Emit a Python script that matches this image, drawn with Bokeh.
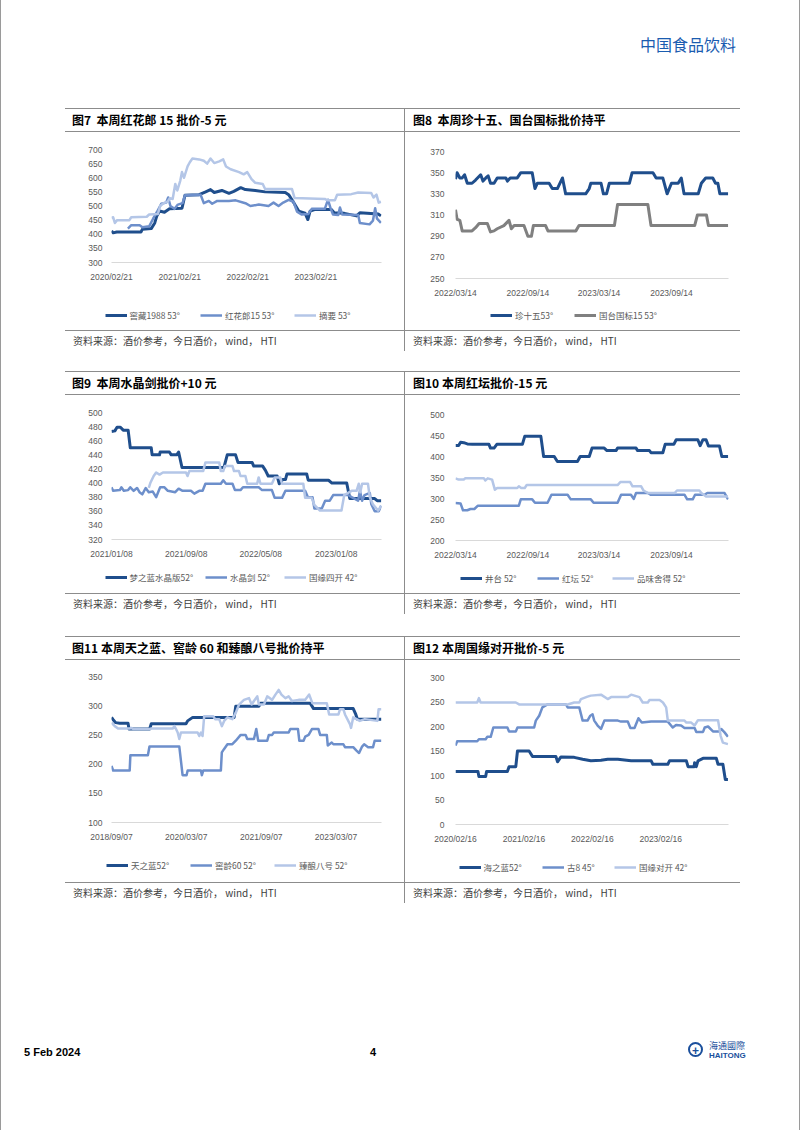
import pandas as pd
from bokeh.plotting import figure
from bokeh.models import Range1d, FixedTicker, DatetimeTickFormatter, Legend, LegendItem, Div, Spacer
from bokeh.layouts import column, row
from bokeh.embed import file_html
from bokeh.resources import INLINE

DARK, MED, LIGHT, GRAY = "#1f4e8c", "#6d8fcb", "#b4c6e7", "#808080"
RULE = "#8c8c8c"
CJK = "Noto Sans CJK SC"
LAT = "Liberation Sans"

# ---------------- data ----------------
# Fig 7
c7_title = "图7  本周红花郎 15 批价-5 元"
c7_x_ticks = ["2020-02-21", "2021-02-21", "2022-02-21", "2023-02-21"]
c7_x_end = "2024-02-08"
c7_y_ticks = [300, 350, 400, 450, 500, 550, 600, 650, 700]
c7_labels = ["窖藏1988 53°", "红花郎15 53°", "摘要 53°"]
c7_jiaocang1988 = [("2020-02-21", 412), ("2020-03-01", 405), ("2020-03-20", 408), ("2020-07-28", 408), ("2020-08-05", 418),
    ("2020-09-21", 420), ("2020-10-10", 440), ("2020-10-21", 465), ("2020-11-05", 482), ("2020-12-01", 478),
    ("2020-12-28", 490), ("2021-03-05", 492), ("2021-03-21", 538), ("2021-06-05", 540), ("2021-07-10", 550),
    ("2021-08-05", 558), ("2021-08-25", 548), ("2021-10-05", 555), ("2021-11-12", 545), ("2021-12-08", 552),
    ("2022-01-14", 565), ("2022-02-08", 558), ("2022-04-02", 555), ("2022-05-25", 550), ("2022-09-10", 548),
    ("2022-09-28", 540), ("2022-10-16", 522), ("2022-11-05", 500), ("2022-11-21", 482), ("2022-12-25", 475),
    ("2023-01-09", 452), ("2023-01-21", 482), ("2023-02-18", 488), ("2023-05-15", 488), ("2023-05-30", 476),
    ("2023-07-24", 474), ("2023-09-27", 465), ("2023-10-15", 476), ("2024-01-21", 472), ("2024-02-05", 465)]
c7_honghualang15 = [("2020-05-19", 420), ("2020-06-06", 432), ("2020-07-21", 432), ("2020-08-05", 425), ("2020-09-10", 428),
    ("2020-10-01", 455), ("2020-10-21", 478), ("2020-11-14", 508), ("2020-12-10", 512), ("2020-12-21", 530),
    ("2021-01-02", 500), ("2021-01-24", 490), ("2021-02-11", 505), ("2021-03-08", 510), ("2021-03-21", 538),
    ("2021-06-13", 540), ("2021-06-30", 510), ("2021-07-27", 518), ("2021-08-14", 508), ("2021-09-10", 518),
    ("2021-11-12", 518), ("2021-12-18", 520), ("2022-02-08", 510), ("2022-03-07", 500), ("2022-04-21", 505),
    ("2022-06-12", 500), ("2022-07-09", 512), ("2022-08-05", 500), ("2022-08-30", 512), ("2022-09-28", 522),
    ("2022-10-24", 515), ("2022-11-12", 480), ("2022-12-06", 470), ("2023-01-12", 472), ("2023-01-30", 490),
    ("2023-04-10", 490), ("2023-04-27", 522), ("2023-05-12", 490), ("2023-05-24", 470), ("2023-06-21", 468),
    ("2023-06-30", 495), ("2023-07-12", 470), ("2023-10-06", 468), ("2023-10-15", 440), ("2023-12-06", 435),
    ("2023-12-24", 448), ("2024-01-05", 492), ("2024-01-15", 455), ("2024-02-05", 440)]
c7_zhaiyao = [("2020-02-21", 458), ("2020-03-01", 460), ("2020-03-10", 440), ("2020-03-22", 450), ("2020-05-27", 450),
    ("2020-06-06", 460), ("2020-08-28", 462), ("2020-09-10", 470), ("2020-10-27", 472), ("2020-11-08", 500),
    ("2020-11-26", 510), ("2020-12-18", 515), ("2020-12-30", 528), ("2021-01-14", 525), ("2021-01-28", 578),
    ("2021-02-08", 555), ("2021-02-24", 590), ("2021-03-05", 620), ("2021-03-16", 600), ("2021-04-04", 640),
    ("2021-04-16", 655), ("2021-04-30", 668), ("2021-06-05", 665), ("2021-06-30", 660), ("2021-07-18", 650),
    ("2021-08-05", 668), ("2021-08-25", 652), ("2021-09-21", 658), ("2021-10-12", 665), ("2021-10-27", 640),
    ("2021-11-21", 630), ("2022-01-05", 620), ("2022-01-30", 612), ("2022-02-18", 620), ("2022-03-13", 595),
    ("2022-04-02", 582), ("2022-05-12", 578), ("2022-05-25", 560), ("2022-10-16", 560), ("2022-10-30", 528),
    ("2023-04-10", 525), ("2023-04-24", 520), ("2023-06-03", 520), ("2023-06-15", 540), ("2023-08-30", 542),
    ("2023-10-06", 548), ("2023-12-15", 546), ("2023-12-27", 530), ("2024-01-12", 540), ("2024-01-24", 512),
    ("2024-02-05", 515)]

# Fig 8
c8_title = "图8  本周珍十五、国台国标批价持平"
c8_x_ticks = ["2022-03-14", "2022-09-14", "2023-03-14", "2023-09-14"]
c8_x_end = "2024-02-06"
c8_y_ticks = [250, 270, 290, 310, 330, 350, 370]
c8_labels = ["珍十五53°", "国台国标15 53°"]
c8_zhen15 = [("2022-03-14", 344), ("2022-03-18", 350), ("2022-03-25", 345), ("2022-03-31", 345), ("2022-04-06", 348),
    ("2022-04-13", 340), ("2022-04-25", 340), ("2022-05-04", 343), ("2022-05-17", 348), ("2022-05-23", 342),
    ("2022-05-30", 345), ("2022-06-05", 347), ("2022-06-11", 340), ("2022-06-20", 340), ("2022-06-28", 345),
    ("2022-07-20", 345), ("2022-07-24", 342), ("2022-07-31", 345), ("2022-08-18", 345), ("2022-08-27", 350),
    ("2022-09-25", 350), ("2022-10-02", 335), ("2022-10-08", 340), ("2022-11-07", 340), ("2022-11-15", 335),
    ("2022-11-28", 335), ("2022-12-11", 345), ("2022-12-19", 330), ("2023-02-08", 330), ("2023-02-17", 335),
    ("2023-02-21", 340), ("2023-03-19", 340), ("2023-03-25", 330), ("2023-04-02", 330), ("2023-04-09", 340),
    ("2023-05-30", 340), ("2023-06-06", 350), ("2023-07-29", 350), ("2023-08-06", 345), ("2023-08-23", 345),
    ("2023-09-03", 330), ("2023-09-14", 340), ("2023-10-01", 340), ("2023-10-09", 345), ("2023-10-16", 330),
    ("2023-11-21", 330), ("2023-11-29", 340), ("2023-12-10", 345), ("2023-12-28", 345), ("2024-01-04", 340),
    ("2024-01-10", 340), ("2024-01-15", 330), ("2024-02-05", 330)]
c8_guotai15 = [("2022-03-14", 315), ("2022-03-18", 306), ("2022-03-25", 305), ("2022-03-31", 295), ("2022-04-25", 295),
    ("2022-05-04", 298), ("2022-05-13", 302), ("2022-06-03", 302), ("2022-06-11", 294), ("2022-06-20", 295),
    ("2022-06-28", 297), ("2022-07-15", 300), ("2022-07-28", 305), ("2022-08-03", 297), ("2022-08-10", 300),
    ("2022-09-04", 300), ("2022-09-14", 290), ("2022-09-23", 290), ("2022-09-28", 300), ("2022-10-29", 300),
    ("2022-11-04", 295), ("2023-01-14", 295), ("2023-01-22", 300), ("2023-04-22", 300), ("2023-04-30", 320),
    ("2023-07-16", 320), ("2023-07-24", 300), ("2023-11-12", 300), ("2023-11-19", 310), ("2023-12-12", 310),
    ("2023-12-17", 300), ("2024-02-05", 300)]

# Fig 9
c9_title = "图9  本周水晶剑批价+10 元"
c9_x_ticks = ["2021-01-08", "2021-09-08", "2022-05-08", "2023-01-08"]
c9_x_end = "2023-06-04"
c9_y_ticks = [320, 340, 360, 380, 400, 420, 440, 460, 480, 500]
c9_labels = ["梦之蓝水晶版52°", "水晶剑 52°", "国缘四开 42°"]
c9_mengzhilan = [("2021-01-08", 473), ("2021-01-19", 474), ("2021-01-26", 479), ("2021-02-06", 479), ("2021-02-15", 475),
    ("2021-03-03", 475), ("2021-03-10", 450), ("2021-05-17", 450), ("2021-05-20", 440), ("2021-06-13", 440),
    ("2021-06-15", 444), ("2021-07-15", 444), ("2021-07-21", 440), ("2021-08-08", 440), ("2021-08-14", 444),
    ("2021-08-25", 422), ("2022-01-08", 422), ("2022-01-19", 440), ("2022-02-15", 440), ("2022-02-23", 429),
    ("2022-04-10", 429), ("2022-04-15", 424), ("2022-05-14", 424), ("2022-05-23", 418), ("2022-06-01", 410),
    ("2022-06-30", 410), ("2022-07-07", 399), ("2022-07-18", 405), ("2022-07-27", 405), ("2022-08-01", 413),
    ("2022-10-04", 413), ("2022-10-09", 404), ("2022-12-14", 404), ("2022-12-25", 400), ("2023-02-11", 400),
    ("2023-02-16", 389), ("2023-02-21", 378), ("2023-05-13", 378), ("2023-05-21", 375), ("2023-06-03", 375)]
c9_shuijingjian = [("2021-01-08", 394), ("2021-01-13", 389), ("2021-02-04", 390), ("2021-02-09", 394), ("2021-02-17", 389),
    ("2021-03-03", 390), ("2021-03-10", 394), ("2021-03-21", 389), ("2021-04-01", 393), ("2021-04-09", 387),
    ("2021-04-18", 384), ("2021-04-29", 393), ("2021-05-09", 387), ("2021-05-22", 388), ("2021-06-02", 380),
    ("2021-06-15", 394), ("2021-06-29", 394), ("2021-07-10", 389), ("2021-08-03", 387), ("2021-08-14", 392),
    ("2021-08-27", 389), ("2021-09-23", 389), ("2021-10-04", 385), ("2021-10-20", 389), ("2021-10-31", 389),
    ("2021-11-09", 399), ("2021-12-29", 399), ("2022-01-06", 404), ("2022-01-15", 399), ("2022-02-05", 399),
    ("2022-02-13", 390), ("2022-03-03", 390), ("2022-03-11", 394), ("2022-05-01", 394), ("2022-05-12", 390),
    ("2022-06-13", 390), ("2022-06-22", 379), ("2022-07-16", 379), ("2022-07-27", 389), ("2022-09-29", 389),
    ("2022-10-08", 380), ("2022-10-23", 380), ("2022-10-29", 364), ("2022-11-22", 364), ("2022-12-03", 375),
    ("2022-12-18", 375), ("2022-12-29", 383), ("2023-02-16", 383), ("2023-02-27", 380), ("2023-03-20", 375),
    ("2023-03-26", 389), ("2023-04-02", 375), ("2023-04-10", 383), ("2023-04-27", 386), ("2023-05-02", 370),
    ("2023-05-13", 360), ("2023-05-26", 360), ("2023-06-03", 368)]
c9_guoyuan4 = [("2021-05-09", 393), ("2021-05-14", 400), ("2021-05-25", 410), ("2021-06-02", 415), ("2021-06-13", 412),
    ("2021-06-24", 415), ("2021-09-07", 415), ("2021-09-12", 410), ("2021-09-18", 417), ("2021-11-02", 417),
    ("2021-11-09", 429), ("2021-12-24", 429), ("2021-12-29", 417), ("2022-01-06", 417), ("2022-01-11", 424),
    ("2022-02-05", 424), ("2022-02-10", 417), ("2022-02-26", 417), ("2022-03-03", 410), ("2022-03-19", 410),
    ("2022-03-25", 399), ("2022-04-26", 399), ("2022-05-01", 408), ("2022-05-07", 399), ("2022-06-13", 399),
    ("2022-06-22", 408), ("2022-07-10", 408), ("2022-07-16", 399), ("2022-09-23", 399), ("2022-09-29", 379),
    ("2022-10-20", 379), ("2022-10-29", 369), ("2022-11-16", 361), ("2023-01-25", 361), ("2023-02-03", 383),
    ("2023-02-27", 389), ("2023-03-15", 389), ("2023-03-22", 399), ("2023-03-27", 387), ("2023-04-02", 399),
    ("2023-04-21", 399), ("2023-04-27", 380), ("2023-05-07", 370), ("2023-05-24", 361), ("2023-06-03", 368)]

# Fig 10
c10_title = "图10 本周红坛批价-15 元"
c10_x_ticks = ["2022-03-14", "2022-09-14", "2023-03-14", "2023-09-14"]
c10_x_end = "2024-02-06"
c10_y_ticks = [200, 250, 300, 350, 400, 450, 500]
c10_labels = ["井台 52°", "红坛 52°", "品味舍得 52°"]
c10_jingtai = [("2022-03-14", 426), ("2022-03-22", 426), ("2022-03-27", 434), ("2022-04-04", 433), ("2022-04-13", 430),
    ("2022-04-26", 429), ("2022-06-07", 429), ("2022-06-11", 420), ("2022-06-20", 420), ("2022-06-27", 429),
    ("2022-08-31", 429), ("2022-09-06", 448), ("2022-10-17", 448), ("2022-10-24", 400), ("2022-11-20", 400),
    ("2022-11-28", 388), ("2023-01-18", 388), ("2023-01-25", 400), ("2023-02-17", 400), ("2023-02-24", 420),
    ("2023-03-27", 420), ("2023-04-03", 414), ("2023-04-26", 414), ("2023-04-30", 420), ("2023-06-16", 420),
    ("2023-06-20", 414), ("2023-07-20", 414), ("2023-07-24", 409), ("2023-08-23", 409), ("2023-08-29", 429),
    ("2023-09-20", 429), ("2023-09-26", 440), ("2023-11-20", 440), ("2023-11-26", 426), ("2023-12-03", 440),
    ("2023-12-11", 440), ("2023-12-17", 425), ("2024-01-14", 425), ("2024-01-20", 400), ("2024-02-05", 400)]
c10_hongtan = [("2022-03-14", 289), ("2022-03-27", 288), ("2022-04-02", 272), ("2022-04-13", 272), ("2022-04-21", 275),
    ("2022-05-01", 275), ("2022-05-10", 283), ("2022-08-22", 283), ("2022-08-27", 298), ("2022-09-25", 298),
    ("2022-10-02", 290), ("2022-11-03", 290), ("2022-11-13", 309), ("2022-12-24", 309), ("2023-01-01", 298),
    ("2023-02-21", 298), ("2023-02-28", 290), ("2023-04-30", 290), ("2023-05-09", 309), ("2023-06-03", 309),
    ("2023-06-10", 299), ("2023-06-16", 313), ("2023-07-16", 313), ("2023-07-23", 309), ("2023-10-17", 309),
    ("2023-10-24", 298), ("2023-11-07", 298), ("2023-11-13", 309), ("2023-12-07", 309), ("2023-12-14", 313),
    ("2024-01-27", 313), ("2024-02-05", 298)]
c10_pinwei = [("2022-03-14", 348), ("2022-03-22", 345), ("2022-04-04", 345), ("2022-04-08", 348), ("2022-05-25", 348),
    ("2022-05-29", 343), ("2022-06-04", 348), ("2022-06-15", 345), ("2022-06-22", 321), ("2022-06-28", 325),
    ("2022-08-18", 325), ("2022-08-22", 329), ("2022-08-28", 325), ("2022-09-06", 325), ("2022-09-11", 332),
    ("2023-04-30", 332), ("2023-05-07", 339), ("2023-06-01", 339), ("2023-06-07", 329), ("2023-06-29", 329),
    ("2023-07-05", 319), ("2023-07-16", 313), ("2023-09-22", 313), ("2023-09-28", 319), ("2023-11-24", 319),
    ("2023-11-29", 313), ("2023-12-11", 305), ("2024-02-05", 305)]

# Fig 11
c11_title = "图11 本周天之蓝、窖龄 60 和臻酿八号批价持平"
c11_x_ticks = ["2018-09-07", "2020-03-07", "2021-09-07", "2023-03-07"]
c11_x_end = "2024-02-03"
c11_y_ticks = [100, 150, 200, 250, 300, 350]
c11_labels = ["天之蓝52°", "窖龄60 52°", "臻酿八号 52°"]
c11_tianzhilan = [("2018-09-07", 280), ("2018-09-19", 276), ("2018-10-08", 271), ("2018-11-06", 270), ("2019-01-06", 270),
    ("2019-01-13", 260), ("2019-06-13", 260), ("2019-06-25", 269), ("2020-03-05", 269), ("2020-03-17", 274),
    ("2020-04-23", 280), ("2021-02-20", 280), ("2021-03-04", 299), ("2021-08-20", 299), ("2021-09-01", 304),
    ("2022-08-31", 304), ("2022-09-24", 295), ("2023-07-11", 295), ("2023-07-30", 285), ("2023-08-11", 277),
    ("2024-02-02", 277)]
c11_jiaoling60 = [("2018-09-07", 197), ("2018-09-19", 189), ("2019-01-18", 189), ("2019-01-23", 215), ("2019-05-31", 215),
    ("2019-06-12", 230), ("2020-01-16", 230), ("2020-02-09", 181), ("2020-03-09", 181), ("2020-03-17", 189),
    ("2020-06-22", 189), ("2020-06-29", 181), ("2020-07-09", 189), ("2020-11-15", 189), ("2020-11-22", 220),
    ("2020-12-09", 226), ("2021-01-02", 234), ("2021-02-07", 234), ("2021-03-04", 240), ("2021-04-09", 250),
    ("2021-05-15", 250), ("2021-05-27", 243), ("2021-07-15", 243), ("2021-08-01", 260), ("2021-08-15", 240),
    ("2021-10-20", 240), ("2021-11-01", 250), ("2021-11-25", 250), ("2021-12-07", 254), ("2022-03-26", 254),
    ("2022-04-07", 260), ("2022-06-02", 260), ("2022-06-12", 240), ("2022-07-13", 240), ("2022-07-25", 247),
    ("2022-08-19", 250), ("2022-09-12", 260), ("2022-10-30", 260), ("2022-11-11", 250), ("2022-12-30", 250),
    ("2023-01-06", 232), ("2023-02-04", 237), ("2023-02-16", 234), ("2023-04-30", 234), ("2023-05-12", 229),
    ("2023-07-11", 229), ("2023-07-23", 226), ("2023-08-04", 223), ("2023-08-23", 219), ("2023-09-14", 230),
    ("2023-09-29", 234), ("2023-10-28", 229), ("2023-12-03", 229), ("2023-12-15", 240), ("2024-02-02", 240)]
c11_zhenniang8 = [("2018-09-07", 271), ("2018-10-01", 265), ("2018-10-25", 261), ("2019-01-18", 261), ("2019-01-30", 262),
    ("2019-02-12", 260), ("2019-06-13", 260), ("2019-06-25", 261), ("2019-11-29", 261), ("2019-12-11", 265),
    ("2019-12-23", 260), ("2020-01-04", 254), ("2020-01-16", 243), ("2020-01-28", 254), ("2020-05-29", 254),
    ("2020-06-10", 248), ("2020-06-22", 254), ("2020-07-04", 248), ("2020-07-16", 282), ("2020-09-20", 282),
    ("2020-10-04", 277), ("2020-11-03", 277), ("2020-11-22", 265), ("2020-12-09", 274), ("2021-01-02", 280),
    ("2021-02-07", 277), ("2021-03-04", 288), ("2021-03-28", 302), ("2021-05-03", 310), ("2021-06-09", 313),
    ("2021-06-28", 302), ("2021-07-15", 308), ("2021-08-08", 316), ("2021-08-20", 302), ("2021-09-26", 302),
    ("2021-10-20", 316), ("2021-11-25", 310), ("2021-12-19", 319), ("2022-01-12", 327), ("2022-02-01", 319),
    ("2022-03-02", 313), ("2022-03-26", 316), ("2022-04-19", 308), ("2022-06-07", 310), ("2022-07-25", 310),
    ("2022-08-23", 319), ("2022-09-16", 304), ("2022-12-30", 304), ("2023-01-16", 285), ("2023-03-25", 285),
    ("2023-04-06", 294), ("2023-04-30", 294), ("2023-05-12", 285), ("2023-06-18", 268), ("2023-06-25", 262),
    ("2023-07-11", 280), ("2023-08-04", 277), ("2023-08-28", 274), ("2023-10-04", 277), ("2024-01-04", 274),
    ("2024-01-13", 294), ("2024-02-02", 294)]

# Fig 12
c12_title = "图12 本周国缘对开批价-5 元"
c12_x_ticks = ["2020-02-16", "2021-02-16", "2022-02-16", "2023-02-16"]
c12_x_end = "2024-02-13"
c12_y_ticks = [0, 50, 100, 150, 200, 250, 300]
c12_labels = ["海之蓝52°", "古8 45°", "国缘对开 42°"]
c12_haizhilan = [("2020-02-16", 108), ("2020-06-15", 108), ("2020-06-20", 98), ("2020-07-26", 98), ("2020-07-31", 108),
    ("2020-11-19", 108), ("2020-11-28", 118), ("2021-01-03", 118), ("2021-01-12", 150), ("2021-03-15", 150),
    ("2021-04-02", 139), ("2021-08-05", 139), ("2021-08-14", 128), ("2021-09-01", 138), ("2021-11-11", 137),
    ("2021-12-26", 133), ("2022-02-08", 130), ("2022-04-03", 131), ("2022-05-09", 133), ("2022-07-02", 133),
    ("2022-09-11", 130), ("2022-12-27", 130), ("2023-01-05", 123), ("2023-03-26", 123), ("2023-04-04", 130),
    ("2023-07-03", 130), ("2023-07-12", 118), ("2023-08-13", 118), ("2023-08-16", 126), ("2023-08-25", 118),
    ("2023-09-03", 130), ("2023-09-30", 135), ("2023-12-10", 135), ("2023-12-19", 123), ("2024-01-14", 123),
    ("2024-01-27", 92), ("2024-02-10", 92)]
c12_gu8 = [("2020-02-16", 161), ("2020-02-25", 170), ("2020-06-11", 170), ("2020-06-20", 174), ("2020-07-26", 174),
    ("2020-08-04", 179), ("2020-08-22", 179), ("2020-09-05", 198), ("2020-11-19", 198), ("2020-11-28", 190),
    ("2021-01-03", 190), ("2021-01-12", 198), ("2021-04-11", 198), ("2021-04-20", 212), ("2021-05-08", 222),
    ("2021-05-25", 239), ("2021-06-21", 245), ("2021-09-28", 245), ("2021-10-07", 239), ("2021-12-08", 239),
    ("2021-12-26", 212), ("2022-01-21", 212), ("2022-02-05", 222), ("2022-02-17", 225), ("2022-02-26", 212),
    ("2022-03-16", 202), ("2022-04-03", 195), ("2022-04-21", 212), ("2022-07-02", 212), ("2022-07-19", 210),
    ("2022-08-24", 210), ("2022-09-07", 197), ("2022-09-29", 197), ("2022-10-20", 217), ("2022-11-07", 208),
    ("2022-12-27", 210), ("2023-03-26", 210), ("2023-04-21", 198), ("2023-05-09", 203), ("2023-06-05", 202),
    ("2023-06-23", 197), ("2023-08-16", 197), ("2023-08-25", 189), ("2023-09-30", 189), ("2023-10-09", 198),
    ("2023-10-27", 200), ("2023-11-22", 190), ("2023-12-27", 190), ("2024-01-05", 195), ("2024-01-23", 188),
    ("2024-02-10", 179)]
c12_guoyuan_duikai = [("2020-02-16", 249), ("2020-06-11", 249), ("2020-06-20", 258), ("2020-06-29", 249), ("2021-01-03", 249),
    ("2021-01-21", 245), ("2021-10-07", 245), ("2021-11-11", 249), ("2021-12-08", 249), ("2021-12-17", 256),
    ("2022-01-21", 261), ("2022-02-08", 263), ("2022-04-03", 265), ("2022-05-09", 256), ("2022-05-27", 260),
    ("2022-08-24", 260), ("2022-09-11", 265), ("2022-10-25", 260), ("2022-11-12", 249), ("2022-12-09", 249),
    ("2022-12-18", 254), ("2023-02-10", 254), ("2023-02-28", 249), ("2023-03-17", 239), ("2023-03-26", 212),
    ("2023-06-23", 212), ("2023-07-03", 208), ("2023-07-29", 208), ("2023-08-16", 202), ("2023-09-03", 213),
    ("2023-12-19", 213), ("2024-01-02", 181), ("2024-01-14", 167), ("2024-02-10", 164)]

source_text = "资料来源：酒价参考，今日酒价， wind， HTI"


# ---------------- chart builder ----------------
def ms(d):
    return pd.Timestamp(d).value // 10**6


def no_frame_align(fig):
    if "frame_align" in fig.properties():
        fig.frame_align = False


STRIP = 30   # height of the legend strip under each chart


def make_chart(series, labels, x_ticks, x_end, y_ticks, w, h, borders, ystand, leg_xs, leg_vy):
    bl, br, bt, bb = borders
    xr = Range1d(pd.Timestamp(x_ticks[0]), pd.Timestamp(x_end))
    p = figure(width=w, height=h, x_axis_type="datetime", output_backend="svg", toolbar_location=None,
               x_range=xr, y_range=Range1d(y_ticks[0], y_ticks[-1]),
               min_border_left=bl, min_border_right=br, min_border_top=bt, min_border_bottom=bb)
    no_frame_align(p)
    p.outline_line_color = None
    p.xgrid.visible = False
    p.ygrid.visible = False
    xa = p.xaxis[0]
    xa.ticker = FixedTicker(ticks=[ms(t) for t in x_ticks])
    fmt = "%Y/%m/%d"
    xa.formatter = DatetimeTickFormatter(microseconds=fmt, milliseconds=fmt, seconds=fmt, minsec=fmt,
                                         minutes=fmt, hourmin=fmt, hours=fmt, days=fmt, months=fmt, years=fmt)
    xa.axis_line_color = "#d9d9d9"
    xa.major_label_standoff = 9
    ya = p.yaxis[0]
    ya.ticker = FixedTicker(ticks=y_ticks)
    ya.axis_line_color = None
    ya.major_label_standoff = ystand
    for ax in (xa, ya):
        ax.major_tick_line_color = None
        ax.minor_tick_line_color = None
        ax.major_tick_out = 0
        ax.major_tick_in = 0
        ax.minor_tick_out = 0
        ax.minor_tick_in = 0
        ax.major_label_text_font = LAT
        ax.major_label_text_font_size = "8.5px"
        ax.major_label_text_color = "#595959"
    parsed = []
    for data, color, lw in series:
        xs = pd.to_datetime([d for d, _ in data])
        ys = [v for _, v in data]
        p.line(xs, ys, line_color=color, line_width=lw, line_join="round")
        parsed.append((xs, ys, color, lw))

    # legend strip: its own small figure whose frame spans the whole strip
    lf = figure(width=w, height=STRIP, output_backend="svg", toolbar_location=None,
                x_axis_type=None, y_axis_type=None, x_range=xr, y_range=Range1d(y_ticks[0], y_ticks[-1]),
                min_border_left=0, min_border_right=0, min_border_top=0, min_border_bottom=0)
    no_frame_align(lf)
    lf.outline_line_color = None
    for (xs, ys, color, lw), label, lx in zip(parsed, labels, leg_xs):
        key = lf.line(xs, ys, line_color=color, line_width=lw, visible=False)
        lf.add_layout(Legend(items=[LegendItem(label=label, renderers=[key])], location=(lx, leg_vy),
                             orientation="horizontal", padding=0, margin=0, spacing=0,
                             glyph_width=22, glyph_height=12, label_height=12, label_standoff=3,
                             border_line_color=None, background_fill_alpha=0, inactive_fill_alpha=0,
                             label_text_font=CJK, label_text_font_size="8.5px",
                             label_text_color="#595959"), "center")
    return column([p, lf], spacing=0)


fig7 = make_chart([(c7_jiaocang1988, DARK, 3), (c7_honghualang15, MED, 2.5), (c7_zhaiyao, LIGHT, 2.5)], c7_labels,
                  c7_x_ticks, c7_x_end, c7_y_ticks, 339, 168, (46, 23, 17, 38), 9, [39.5, 135, 229], 9.5)
fig8 = make_chart([(c8_zhen15, DARK, 3), (c8_guotai15, GRAY, 3)], c8_labels,
                  c8_x_ticks, c8_x_end, c8_y_ticks, 335, 168, (50, 12, 19, 22), 11, [85, 169], 9)
fig9 = make_chart([(c9_mengzhilan, DARK, 3), (c9_shuijingjian, MED, 2.5), (c9_guoyuan4, LIGHT, 2.5)], c9_labels,
                  c9_x_ticks, c9_x_end, c9_y_ticks, 339, 168, (46, 23, 17, 24), 9, [39.5, 140, 219], 10)
fig10 = make_chart([(c10_jingtai, DARK, 3), (c10_hongtan, MED, 2.5), (c10_pinwei, LIGHT, 2.5)], c10_labels,
                   c10_x_ticks, c10_x_end, c10_y_ticks, 335, 168, (50, 12, 19, 23), 11, [55, 132, 207], 9)
fig11 = make_chart([(c11_tianzhilan, DARK, 3), (c11_jiaoling60, MED, 2.5), (c11_zhenniang8, LIGHT, 2.5)], c11_labels,
                   c11_x_ticks, c11_x_end, c11_y_ticks, 339, 192, (46, 23, 16, 30), 9, [41, 125, 209], 11)
fig12 = make_chart([(c12_haizhilan, DARK, 3), (c12_gu8, MED, 2.5), (c12_guoyuan_duikai, LIGHT, 2.5)], c12_labels,
                   c12_x_ticks, c12_x_end, c12_y_ticks, 335, 192, (50, 12, 17, 28), 11, [53.5, 137, 209], 9)


# ---------------- page furniture ----------------
LW, RW, FULL = 339, 335, 675


def hline(w=FULL):
    return Div(text="", width=w, height=1, margin=0, styles={"background-color": RULE})


def vline(h, color=RULE):
    return Div(text="", width=1, height=h, margin=0, styles={"background-color": color})


def band(txt, w, h, left, size, weight="normal", color="#000000"):
    html = (f'<div style="position:relative;width:{w}px;height:{h}px;">'
            f'<span style="position:absolute;left:{left}px;top:0px;height:{h}px;line-height:{h}px;'
            f'white-space:pre;font-family:\'{CJK}\';font-size:{size}px;font-weight:{weight};color:{color};">'
            f'{txt}</span></div>')
    return Div(text=html, width=w, height=h, margin=0)


def panel_row(tl, tr, fl, fr, fig_h):
    return column([
        hline(),
        row([band(tl, LW, 22, 7, 12, "bold"), vline(22), band(tr, RW, 22, 8, 12, "bold")], spacing=0),
        hline(),
        row([fl, vline(fig_h), fr], spacing=0),
        hline(),
        row([band(source_text, LW, 20, 8, 10, "normal", "#404040"), vline(20),
             band(source_text, RW, 20, 8, 10, "normal", "#404040")], spacing=0),
    ], spacing=0)


panels = column([
    panel_row(c7_title, c8_title, fig7, fig8, 198),
    Spacer(width=10, height=20, margin=0),
    panel_row(c9_title, c10_title, fig9, fig10, 198),
    Spacer(width=10, height=22, margin=0),
    panel_row(c11_title, c12_title, fig11, fig12, 222),
], spacing=0)

header = Div(width=794, height=108, margin=0, text=(
    '<div style="position:relative;width:794px;height:108px;">'
    f'<span style="position:absolute;left:639px;top:35px;line-height:18px;font-family:\'{CJK}\';'
    'font-size:16px;color:#1a5cb0;white-space:pre;">中国食品饮料</span></div>'))

footer = Div(width=794, height=28, margin=0, text=(
    '<div style="position:relative;width:794px;height:28px;">'
    f'<span style="position:absolute;left:23px;top:7px;line-height:14px;font-family:\'{LAT}\';'
    'font-size:11px;font-weight:bold;color:#000;white-space:pre;">5 Feb 2024</span>'
    f'<span style="position:absolute;left:369px;top:7px;line-height:14px;font-family:\'{LAT}\';'
    'font-size:11px;font-weight:bold;color:#000;">4</span>'
    '<span style="position:absolute;left:687px;top:4px;width:15px;height:15px;border:2px solid #1a4f9c;'
    'border-radius:50%;color:#1a4f9c;font-size:12px;font-weight:bold;line-height:15px;text-align:center;'
    f'font-family:\'{LAT}\';">+</span>'
    f'<span style="position:absolute;left:708px;top:3px;line-height:10px;font-family:\'{CJK}\';'
    'font-size:9px;color:#1a4f9c;white-space:pre;">海通國際</span>'
    f'<span style="position:absolute;left:708px;top:13px;line-height:10px;font-family:\'{LAT}\';'
    'font-size:8px;font-weight:bold;color:#1a4f9c;white-space:pre;">HAITONG</span>'
    '</div>'))

inner = column([
    header,
    row([Spacer(width=64, height=10, margin=0), panels], spacing=0),
    Spacer(width=10, height=135, margin=0),
    footer,
], spacing=0)

page = row([vline(1130, "#9a9a9a"), inner, Spacer(width=4, height=10, margin=0), vline(1130, "#9a9a9a")], spacing=0)

open("out.html", "w").write(file_html(page, INLINE))
